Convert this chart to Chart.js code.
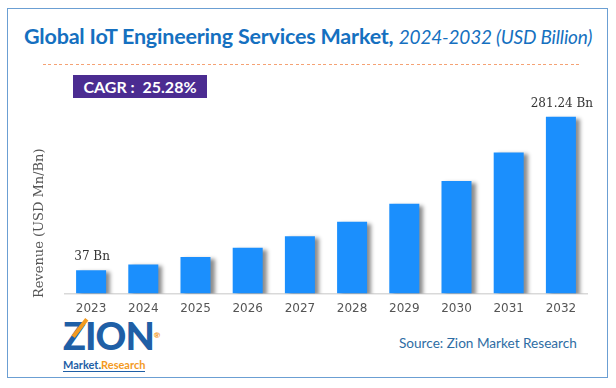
<!DOCTYPE html>
<html>
<head>
<meta charset="utf-8">
<script src="https://cdn.jsdelivr.net/npm/chart.js@4.4.1/dist/chart.umd.min.js"></script>
<style>
  html, body { margin: 0; padding: 0; background: #fff; }
  #page { position: relative; width: 616px; height: 388px; overflow: hidden; font-family: Lato, "Open Sans", sans-serif; }
  #frame { position: absolute; left: 7px; top: 8px; width: 599px; height: 368px; border: 1.5px solid #6b9fd3; }
  #title { position: absolute; left: 24px; top: 23px; white-space: nowrap; font-size: 21.5px; color: #1570c0; letter-spacing: -0.2px; }
  #title b { font-weight: 700; }
  #title i { font-weight: 400; font-size: 19px; letter-spacing: -0.2px; }
  #dash { position: absolute; left: 43px; top: 63.5px; width: 536px; height: 1.5px;
          background: repeating-linear-gradient(90deg, #f5a274 0 3px, transparent 3px 5.5px); }
  #cagr { position: absolute; left: 73px; top: 75px; width: 134px; height: 23px; background: #4b2c91; color: #fff;
          font-weight: 700; font-size: 16px; line-height: 23px; text-align: center; white-space: nowrap; }
  #source { position: absolute; left: 399px; top: 335px; font-size: 13.6px; color: #2e6da4; white-space: nowrap; }
  #logo { position: absolute; left: 63px; top: 318px; width: 90px; }
  #logo .zion { font-weight: 900; font-size: 38px; line-height: 35px; color: #1f5fa6; letter-spacing: -1px; position: relative; }
  #logo .zion .arr { position: absolute; left: 6px; top: 8px; width: 22px; height: 4px; background: #f39a1e; transform: rotate(-52deg); }
  #logo .reg { font-size: 8px; color: #f39a1e; vertical-align: top; }
  #logo .mr { font-weight: 700; font-size: 11px; line-height: 12px; border-bottom: 1.5px solid #1f5fa6; display: inline-block; }
  #logo .mr .m { color: #1f5fa6; }
  #logo .mr .r { color: #f39a1e; }
  #chartBox { position: absolute; left: 0; top: 0; width: 616px; height: 388px; }
</style>
</head>
<body>
<div id="page">
  <div id="frame"></div>
  <div id="title"><b>Global IoT Engineering Services Market,</b> <i>2024-2032 (USD Billion)</i></div>
  <div id="dash"></div>
  <div id="cagr">CAGR :&nbsp; 25.28%</div>
  <div id="logo">
    <div class="zion"><span class="arr"></span>ZION<span class="reg">®</span></div>
    <div class="mr"><span class="m">Market.</span><span class="r">Research</span></div>
  </div>
  <div id="source">Source: Zion Market Research</div>
  <div id="chartBox"><canvas id="chart" width="616" height="388"></canvas></div>
</div>
<script>
const years = ['2023', '2024', '2025', '2026', '2027', '2028', '2029', '2030', '2031', '2032'];
const revenue = [37, 46.4, 58.1, 72.8, 91.1, 114.2, 143.0, 179.2, 224.5, 281.24];
const valueLabels = ['37 Bn', '', '', '', '', '', '', '', '', '281.24 Bn'];
const yAxisTitle = 'Revenue (USD Mn/Bn)';

// shadow behind the bars
const barShadow = {
    id: 'barShadow',
    beforeDatasetsDraw(chart) {
        const ctx = chart.ctx;
        ctx.save();
        ctx.shadowColor = 'rgba(0,0,0,0.45)';
        ctx.shadowOffsetX = 4;
        ctx.shadowOffsetY = 2;
        ctx.shadowBlur = 4;
    },
    afterDatasetsDraw(chart) {
        chart.ctx.restore();
    }
};

// value labels and the y axis title
const extraText = {
    id: 'extraText',
    afterDraw(chart) {
        const ctx = chart.ctx;
        const meta = chart.getDatasetMeta(0);
        ctx.save();
        ctx.font = '12px "DejaVu Serif", serif';
        ctx.fillStyle = '#333';
        ctx.textAlign = 'center';
        ctx.textBaseline = 'bottom';
        meta.data.forEach((bar, i) => {
            if (valueLabels[i]) ctx.fillText(valueLabels[i], bar.x + 1, bar.y - 7);
        });
        ctx.font = '13px "DejaVu Serif", serif';
        ctx.translate(40, (chart.chartArea.top + chart.chartArea.bottom) / 2 + 24);
        ctx.rotate(-Math.PI / 2);
        ctx.textBaseline = 'middle';
        ctx.fillStyle = '#555';
        ctx.fillText(yAxisTitle, 0, 0);
        ctx.restore();
    }
};

new Chart(document.getElementById('chart'), {
    type: 'bar',
    data: {
        labels: years,
        datasets: [{
            data: revenue,
            backgroundColor: '#1b8ffd',
            borderWidth: 0,
            categoryPercentage: 1,
            barPercentage: 0.575
        }]
    },
    options: {
        responsive: false,
        animation: false,
        layout: { padding: { left: 65, right: 29, top: 105, bottom: 64 } },
        plugins: {
            legend: { display: false },
            tooltip: { enabled: false }
        },
        scales: {
            x: {
                grid: { display: false, drawTicks: false },
                border: { display: true, color: '#d9d9d9', width: 1.5 },
                ticks: { color: '#555', padding: 8, font: { family: '"DejaVu Sans"', size: 12 } }
            },
            y: {
                display: false,
                min: 0,
                max: 300
            }
        }
    },
    plugins: [barShadow, extraText]
});
</script>
</body>
</html>
